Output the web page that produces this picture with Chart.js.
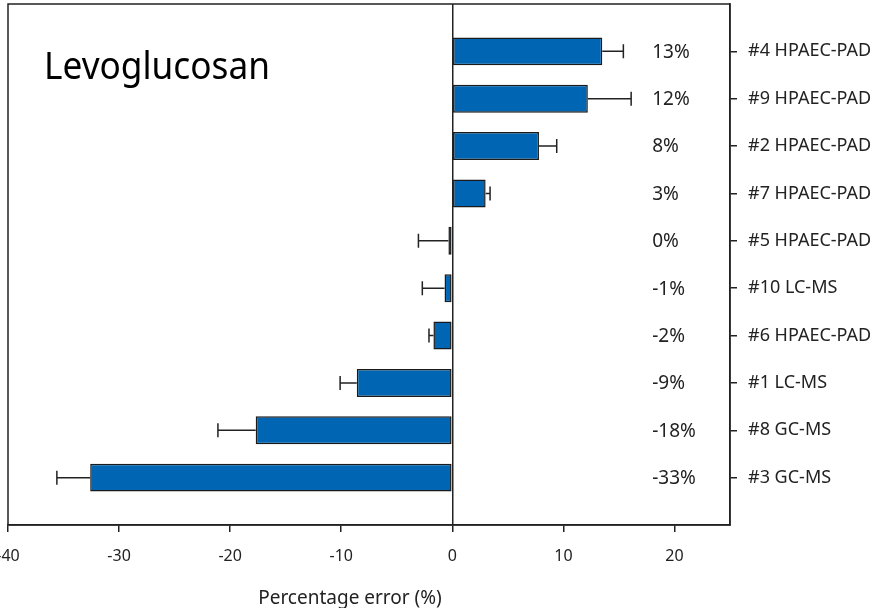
<!DOCTYPE html>
<html lang="en">
<head>
  <meta charset="UTF-8">
  <title>Levoglucosan percentage error</title>
  <script src="https://cdn.jsdelivr.net/npm/chart.js"></script>
  <style>
    body {
      margin: 0;
      background: #fff;
    }
    #wrap {
      width: 879px;
      height: 608px;
    }
  </style>
</head>
<body>

  <div id="wrap"><canvas id="errChart"></canvas></div>

  <script>
    const labs = ['#4 HPAEC-PAD', '#9 HPAEC-PAD', '#2 HPAEC-PAD', '#7 HPAEC-PAD', '#5 HPAEC-PAD',
                  '#10 LC-MS', '#6 HPAEC-PAD', '#1 LC-MS', '#8 GC-MS', '#3 GC-MS'];
    const pctError = [13.5, 12.2, 7.8, 3.0, -0.35, -0.7, -1.7, -8.6, -17.7, -32.6];
    const uncert = [1.9, 3.9, 1.6, 0.4, 2.7, 2.0, 0.4, 1.5, 3.4, 3.0];
    const pctText = ['13%', '12%', '8%', '3%', '0%', '-1%', '-2%', '-9%', '-18%', '-33%'];
    const xTicks = [-40, -30, -20, -10, 0, 10, 20];

    const ink = '#222';
    const font = "'Noto Sans', sans-serif";

    // error bars, % labels, title and frame
    const extras = {
      id: 'extras',
      afterDatasetsDraw(chart) {
        const ctx = chart.ctx;
        const xs = chart.scales.x, ys = chart.scales.y;
        const a = chart.chartArea;
        ctx.save();
        ctx.strokeStyle = ink;
        ctx.lineWidth = 1.5;
        pctError.forEach((v, i) => {
          const end = v >= 0 ? v + uncert[i] : v - uncert[i];
          const y = ys.getPixelForValue(i + 1);
          const x0 = xs.getPixelForValue(v);
          const x1 = xs.getPixelForValue(end);
          ctx.beginPath();
          ctx.moveTo(x0, y);
          ctx.lineTo(x1, y);
          ctx.moveTo(x1, y - 7);
          ctx.lineTo(x1, y + 7);
          ctx.stroke();
        });

        ctx.fillStyle = ink;
        ctx.font = '19px ' + font;
        ctx.textAlign = 'left';
        ctx.textBaseline = 'middle';
        pctText.forEach((t, i) => {
          ctx.fillText(t, xs.getPixelForValue(18), ys.getPixelForValue(i + 1) + 1);
        });

        // frame
        ctx.strokeRect(a.left, a.top, a.right - a.left, a.bottom - a.top);

        ctx.fillStyle = '#000';
        ctx.font = '38px ' + font;
        ctx.textBaseline = 'alphabetic';
        ctx.fillText('Levoglucosan', 44, 79, 226);

        ctx.fillStyle = ink;
        ctx.font = '19px ' + font;
        ctx.textAlign = 'center';
        ctx.fillText('Percentage error (%)', 350, 604);
        ctx.restore();
      }
    };

    new Chart(document.getElementById('errChart'), {
      type: 'bar',
      data: {
        datasets: [{
          data: pctError.map((v, i) => ({ x: v, y: i + 1 })),
          backgroundColor: '#0066b3',
          borderColor: '#1a1a1a',
          borderWidth: 1.5,
          borderSkipped: false,
          barPercentage: 0.59,
          categoryPercentage: 1
        }]
      },
      options: {
        indexAxis: 'y',
        responsive: true,
        maintainAspectRatio: false,
        animation: false,
        layout: { padding: { left: 8, top: 4, right: 0, bottom: 0 } },
        plugins: {
          legend: { display: false },
          tooltip: { enabled: false }
        },
        scales: {
          x: {
            type: 'linear',
            min: -40,
            max: 25,
            afterBuildTicks: s => { s.ticks = xTicks.map(v => ({ value: v })); },
            afterFit: s => { s.height = 83; s.paddingLeft = 0; s.paddingRight = 0; },
            grid: {
              color: c => c.tick && c.tick.value === 0 ? ink : 'transparent',
              lineWidth: 1.5,
              tickColor: ink,
              tickLength: 7
            },
            border: { display: true, color: ink, width: 1.5 },
            ticks: {
              color: ink,
              font: { family: font, size: 16 },
              padding: 15,
              maxRotation: 0
            }
          },
          y: {
            type: 'linear',
            position: 'right',
            min: 0,
            max: 11,
            reverse: true,
            offset: false,
            afterBuildTicks: s => { s.ticks = labs.map((l, i) => ({ value: i + 1 })); },
            afterFit: s => { s.width = 149; s.paddingTop = 0; s.paddingBottom = 0; },
            grid: {
              offset: false,
              drawOnChartArea: false,
              tickColor: ink,
              tickLength: 7,
              lineWidth: 1.5
            },
            border: { display: true, color: ink, width: 1.5 },
            ticks: {
              color: ink,
              font: { family: font, size: 18 },
              padding: 11,
              callback: v => labs[v - 1] || ''
            }
          }
        }
      },
      plugins: [extras]
    });
  </script>

</body>
</html>
